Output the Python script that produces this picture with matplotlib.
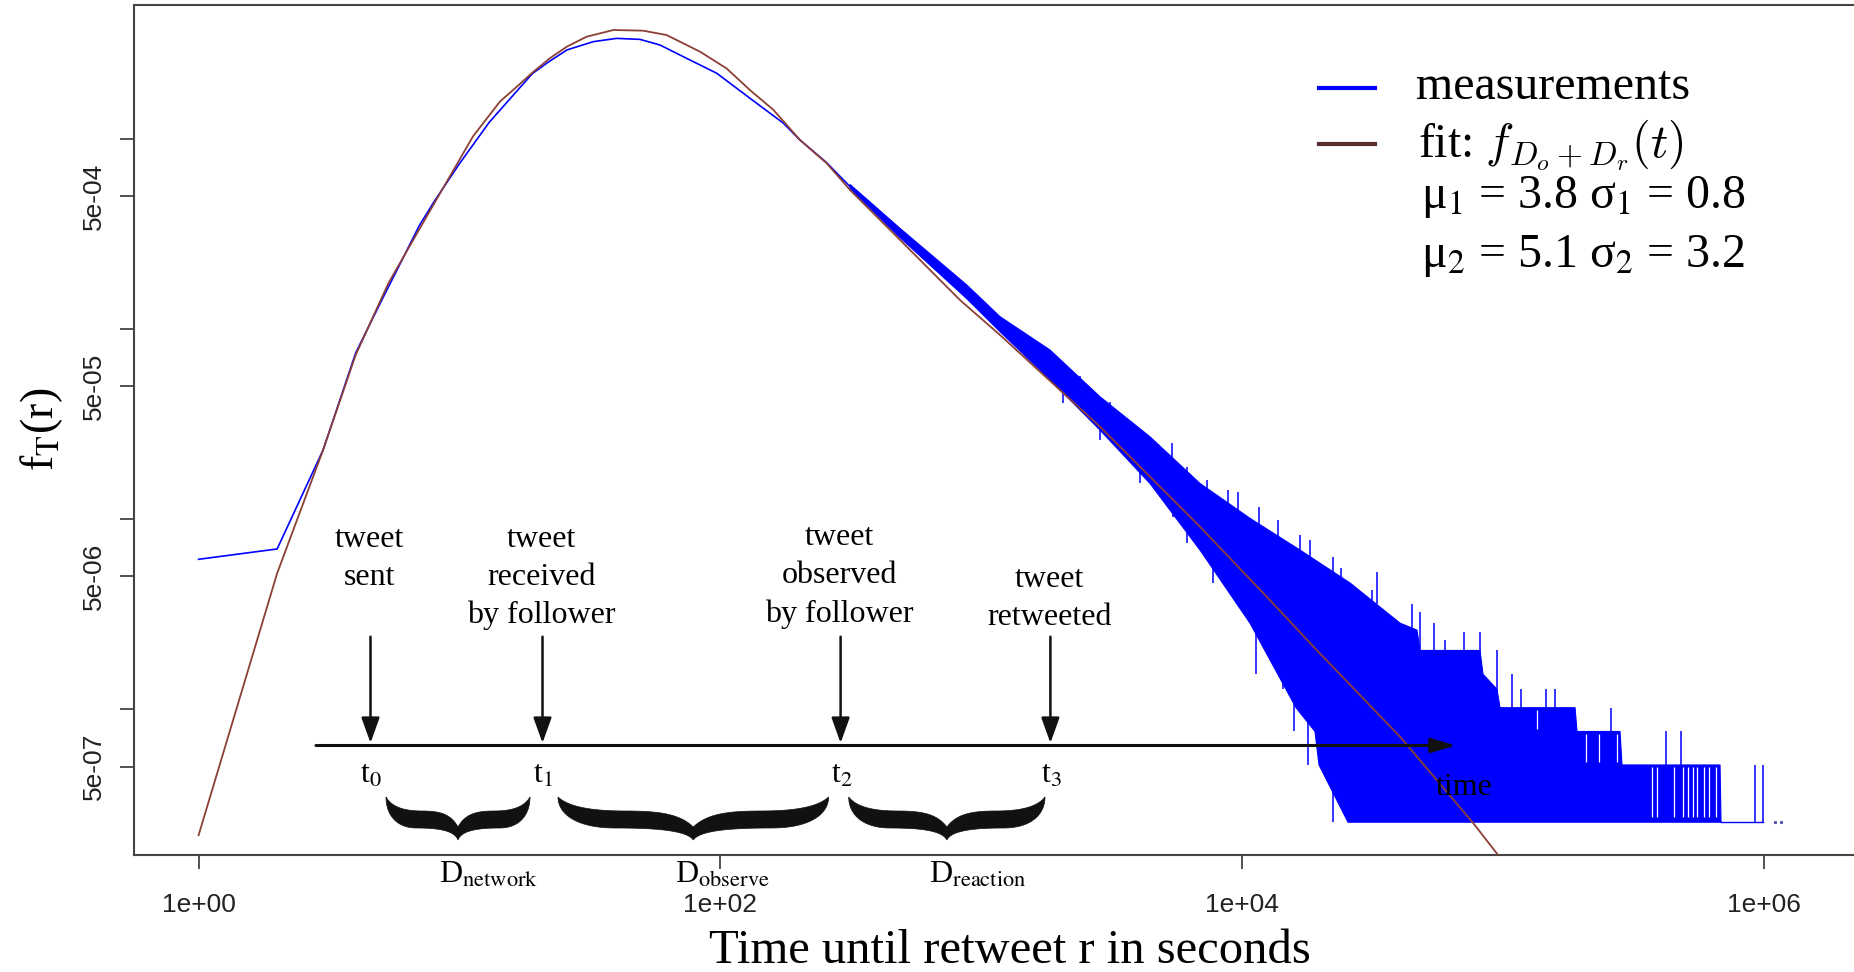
import numpy as np
import matplotlib
matplotlib.use("Agg")
import matplotlib.pyplot as plt
from matplotlib.lines import Line2D
from matplotlib.patches import Polygon
from matplotlib.ticker import NullLocator

W, H, DPI = 1854, 972, 100

# measured density, smooth part (seconds, density)
meas_t = [1, 2, 3, 4, 5, 6, 7, 8, 10, 13, 17, 19.1, 22, 25.8, 32.6, 40, 49.2, 58.7, 72.1,
          96.8, 130, 174, 202, 255, 314]
meas_f = [6.15e-6, 6.97e-6, 2.31e-5, 7.48e-5, 1.39e-4, 2.28e-4, 3.48e-4, 4.68e-4, 7.40e-4,
          1.22e-3, 1.85e-3, 2.21e-3, 2.54e-3, 2.93e-3, 3.24e-3, 3.37e-3, 3.33e-3, 3.11e-3,
          2.70e-3, 2.21e-3, 1.63e-3, 1.21e-3, 9.84e-4, 7.5e-4, 5.6e-4]

# noisy tail of the measurements: upper / lower envelope of the band
band_hi_t = [314, 488, 881, 1180, 1834, 2851, 4432, 6891, 10711, 16650, 25890, 40260, 46770,
             48030, 81560, 83750, 94760, 97300, 188700, 192000, 280600, 285600, 678400, 684400]
band_hi_f = [5.75e-4, 3.38e-4, 1.70e-4, 1.16e-4, 7.75e-5, 4.40e-5, 2.71e-5, 1.54e-5, 1.01e-5,
             6.88e-6, 4.62e-6, 2.84e-6, 2.61e-6, 2.04e-6, 2.04e-6, 1.53e-6, 1.275e-6, 1.02e-6,
             1.02e-6, 7.65e-7, 7.65e-7, 5.1e-7, 5.1e-7, 2.55e-7]
band_lo_t = [314, 488, 881, 1180, 1834, 2851, 4432, 6891, 10711, 16080, 19010, 19700, 25440,
             684400]
band_lo_f = [5.45e-4, 3.02e-4, 1.44e-4, 9.67e-5, 5.4e-5, 2.94e-5, 1.54e-5, 6.88e-6, 2.84e-6,
             1.02e-6, 7.65e-7, 5.1e-7, 2.55e-7, 2.55e-7]

# single-count floor after the band, and the last isolated points
tail_t = [684400, 991300]
tail_f = [2.55e-7, 2.55e-7]
dots_t = [1.10e6, 1.16e6]
dots_f = [2.55e-7, 2.55e-7]

# spikes sticking out of the band (t, low end, high end)
spike_t = [2390, 3116, 3818, 5381, 6130, 7311, 8822, 9637, 11600, 13720, 16650, 18190, 22280,
           23910, 31440, 32780, 44760, 48030, 54360, 59900, 70830, 81560, 94760, 108200,
           117100, 146000, 158100, 259200, 421200, 480800, 923700, 991300,
           2057, 2851, 4058, 5430, 6142, 7729, 11300, 14330, 15800, 17870, 20050, 22280]
spike_lo = [4.5e-5, 3.3e-5, 2.6e-5, 1.8e-5, 1.4e-5, 1.2e-5, 9e-6, 9e-6, 7e-6, 7e-6, 5e-6,
            5e-6, 4.5e-6, 3.5e-6, 3e-6, 3.6e-6, 2.2e-6, 2.0e-6, 1.8e-6, 1.8e-6, 1.8e-6,
            1.8e-6, 1.2e-6, 9e-7, 9e-7, 9e-7, 9e-7, 6e-7, 4e-7, 4e-7, 2.55e-7, 2.55e-7,
            4.08e-5, 2.61e-5, 1.55e-5, 1.03e-5, 7.49e-6, 4.62e-6, 1.53e-6, 1.275e-6, 7.65e-7,
            5.1e-7, 5.1e-7, 2.55e-7]
spike_hi = [5.66e-5, 4.15e-5, 3.20e-5, 2.51e-5, 1.89e-5, 1.61e-5, 1.42e-5, 1.39e-5, 1.16e-5,
            9.9e-6, 8.25e-6, 7.77e-6, 6.35e-6, 5.53e-6, 4.24e-6, 5.30e-6, 3.58e-6, 3.25e-6,
            2.84e-6, 2.32e-6, 2.55e-6, 2.55e-6, 2.04e-6, 1.53e-6, 1.275e-6, 1.275e-6,
            1.275e-6, 1.02e-6, 7.65e-7, 7.65e-7, 5.1e-7, 5.1e-7,
            5.5e-5, 3.5e-5, 2.2e-5, 1.5e-5, 1.1e-5, 7e-6, 3e-6, 2e-6, 1.5e-6, 1.0e-6, 8e-7, 5e-7]

# white gaps inside the stepped tail
slit_t = [134900, 207900, 233200, 273300, 372100, 388900, 451900, 489300, 511300, 534400,
          553500, 588800, 615400, 654600]
slit_lo = [7.9e-7, 5.3e-7, 5.3e-7, 5.3e-7, 2.7e-7, 2.7e-7, 2.7e-7, 2.7e-7, 2.7e-7, 2.7e-7,
           2.7e-7, 2.7e-7, 2.7e-7, 2.7e-7]
slit_hi = [9.9e-7, 7.4e-7, 7.4e-7, 7.4e-7, 4.95e-7, 4.95e-7, 4.95e-7, 4.95e-7, 4.95e-7,
           4.95e-7, 4.95e-7, 4.95e-7, 4.95e-7, 4.95e-7]

# fitted density
fit_t = [1, 2, 3, 4, 5.34, 7.61, 11.27, 14.3, 16.6, 19.2, 22.2, 25.8, 30.7, 38.9, 50.6, 62.2,
         83.5, 105.7, 130, 159.5, 202, 255.5, 314, 488, 828, 1180, 2851, 6891, 12410, 19300,
         40260, 76880, 106000]
fit_f = [2.18e-7, 5.19e-6, 2.31e-5, 7.3e-5, 1.74e-4, 4.06e-4, 1.03e-3, 1.57e-3, 1.88e-3,
         2.25e-3, 2.65e-3, 3.05e-3, 3.44e-3, 3.73e-3, 3.70e-3, 3.51e-3, 2.87e-3, 2.34e-3,
         1.80e-3, 1.42e-3, 9.84e-4, 7.43e-4, 5.38e-4, 2.94e-4, 1.42e-4, 9.29e-5, 3.06e-5,
         9.12e-6, 3.91e-6, 2.05e-6, 7.18e-7, 2.52e-7, 1.43e-7]

xtick_vals = [1, 1e2, 1e4, 1e6]
xtick_labels = ["1e+00", "1e+02", "1e+04", "1e+06"]
ytick_vals = [1e-3, 5e-4, 1e-4, 5e-5, 1e-5, 5e-6, 1e-6, 5e-7]
ytick_labels = ["", "5e-04", "", "5e-05", "", "5e-06", "", "5e-07"]

BLUE = "#0000ff"
BROWN = "#8c3f35"
SERIF = "Liberation Serif"

fig = plt.figure(figsize=(W / DPI, H / DPI), dpi=DPI)
ax = fig.add_axes([133.6 / W, (H - 855) / H, (W - 133.6) / W, (855 - 5.5) / H])

# data
ax.fill(np.r_[band_hi_t, band_lo_t[::-1]], np.r_[band_hi_f, band_lo_f[::-1]],
        color=BLUE, lw=0.8, zorder=2)
ax.vlines(spike_t, spike_lo, spike_hi, color=BLUE, lw=1.1, zorder=2)
ax.vlines(slit_t, slit_lo, slit_hi, color="white", lw=0.9, zorder=2.1)
ax.plot(meas_t, meas_f, color=BLUE, lw=1.2, zorder=2)
ax.plot(tail_t, tail_f, color=BLUE, lw=1.0, zorder=2)
ax.plot(dots_t, dots_f, ls="none", marker="s", ms=1.2, color="#5555aa", zorder=2)
ax.plot(fit_t, fit_f, color=BROWN, lw=1.3, zorder=3)

ax.set_xscale("log")
ax.set_yscale("log")
ax.set_xlim(10 ** ((133.6 - 198.6) / 260.9), 10 ** ((W - 198.6) / 260.9))
ax.set_ylim(10 ** (-3.30103 - (855 - 196) / 190.2), 10 ** (-3.30103 + (196 - 5.5) / 190.2))

ax.set_xticks(xtick_vals, labels=xtick_labels)
ax.set_yticks(ytick_vals, labels=ytick_labels)
ax.xaxis.set_minor_locator(NullLocator())
ax.yaxis.set_minor_locator(NullLocator())
ax.tick_params(length=10, width=1.2, color="#333333", labelsize=19, labelcolor="#222222")
ax.tick_params(axis="x", pad=17.5)
ax.tick_params(axis="y", labelrotation=90, pad=10)
for lab in ax.get_xticklabels() + ax.get_yticklabels():
    lab.set_family("Liberation Sans")
for lab in ax.get_yticklabels():
    lab.set_va("center")

ax.spines["right"].set_visible(False)
for s in ("top", "left", "bottom"):
    ax.spines[s].set_color("#444444")
    ax.spines[s].set_linewidth(1.5)


def fx(x):
    return x / W


def fy(y):
    return 1 - y / H


# axis titles
fig.text(fx(1010), fy(963), "Time until retweet r in seconds", family=SERIF, size=35,
         ha="center", va="baseline")
fig.text(fx(42), fy(429), r"f$_\mathrm{T}$(r)", family=SERIF, math_fontfamily="stix",
         size=33, rotation=90, ha="center", va="center")

# legend
fig.add_artist(Line2D([fx(1319), fx(1375)], [fy(88.3)] * 2, color=BLUE, lw=3))
fig.add_artist(Line2D([fx(1319), fx(1375)], [fy(144)] * 2, color="#5b2c2c", lw=3))
fig.text(fx(1415.6), fy(99), "measurements", family=SERIF, size=34.5, va="baseline")
fig.text(fx(1418), fy(156.7), r"fit: $f_{D_o+D_r}(t)$", family=SERIF, math_fontfamily="cm",
         size=34.5, va="baseline")
fig.text(fx(1421), fy(208.3), "μ$_1$ = 3.8 σ$_1$ = 0.8", family=SERIF, math_fontfamily="stix",
         size=34.5, va="baseline")
fig.text(fx(1421), fy(266.7), "μ$_2$ = 5.1 σ$_2$ = 3.2", family=SERIF, math_fontfamily="stix",
         size=34.5, va="baseline")

# timeline schematic
events = [
    (370.5, ["tweet", "sent"], 546.7, r"t$_0$"),
    (542.5, ["tweet", "received", "by follower"], 546.7, r"t$_1$"),
    (840.6, ["tweet", "observed", "by follower"], 545.0, r"t$_2$"),
    (1050.4, ["tweet", "retweeted"], 586.7, r"t$_3$"),
]
for x, lines, base, tlab in events:
    for i, line in enumerate(lines):
        fig.text(fx(x - 1), fy(base + i * 38.3), line, family=SERIF, size=23,
                 ha="center", va="baseline")
    ax.annotate("", xy=(fx(x), fy(743)), xycoords="figure fraction",
                xytext=(fx(x), fy(636.7)), textcoords="figure fraction",
                arrowprops=dict(arrowstyle="-|>,head_length=0.78,head_width=0.28",
                                lw=1.8, color="#111111", shrinkA=0, shrinkB=0,
                                mutation_scale=20))
    fig.text(fx(x + 1), fy(783), tlab, family=SERIF, math_fontfamily="stix", size=23,
             ha="center", va="baseline")

ax.annotate("", xy=(fx(1456), fy(745.5)), xycoords="figure fraction",
            xytext=(fx(316), fy(745.5)), textcoords="figure fraction",
            arrowprops=dict(arrowstyle="-|>,head_length=0.75,head_width=0.22",
                            lw=2.2, color="#111111", shrinkA=0, shrinkB=0,
                            mutation_scale=20))
fig.text(fx(1464), fy(795), "time", family=SERIF, size=23, ha="center", va="baseline")


def bez(p0, p1, p2, p3, n=30):
    s = np.linspace(0, 1, n)[:, None]
    p0, p1, p2, p3 = map(np.asarray, (p0, p1, p2, p3))
    return ((1 - s) ** 3 * p0 + 3 * (1 - s) ** 2 * s * p1
            + 3 * (1 - s) * s ** 2 * p2 + s ** 3 * p3)


# half of a bottom curly brace: u along the half (0 end, 1 middle), v pixels down
lower = np.vstack([bez((0, 0), (0, 18), (0.15, 31), (0.42, 31)),
                   bez((0.42, 31), (0.7, 31), (0.95, 33), (1, 43))])
upper = np.vstack([bez((1, 30), (0.9, 17), (0.75, 14), (0.5, 14)),
                   bez((0.5, 14), (0.25, 14), (0.08, 10), (0, 0))])


def brace(x0, x1, y0):
    w = (x1 - x0) / 2
    ll = np.c_[x0 + lower[:, 0] * w, y0 + lower[:, 1]]
    rl = np.c_[x1 - lower[::-1, 0] * w, y0 + lower[::-1, 1]]
    ru = np.c_[x1 - upper[::-1, 0] * w, y0 + upper[::-1, 1]]
    lu = np.c_[x0 + upper[:, 0] * w, y0 + upper[:, 1]]
    pts = np.vstack([ll, rl, ru, lu])
    pts = np.c_[pts[:, 0] / W, 1 - pts[:, 1] / H]
    fig.add_artist(Polygon(pts, closed=True, transform=fig.transFigure,
                           facecolor="#111111", edgecolor="#111111", lw=0.5))


durations = [(386, 530, r"D$_\mathrm{network}$", 488.5),
             (558, 828.6, r"D$_\mathrm{observe}$", 722.5),
             (848.7, 1045, r"D$_\mathrm{reaction}$", 978)]
for x0, x1, lab, xc in durations:
    brace(x0, x1, 797)
    fig.text(fx(xc), fy(883), lab, family=SERIF, math_fontfamily="stix", size=23,
             ha="center", va="baseline")

fig.savefig("out.png", dpi=DPI)
